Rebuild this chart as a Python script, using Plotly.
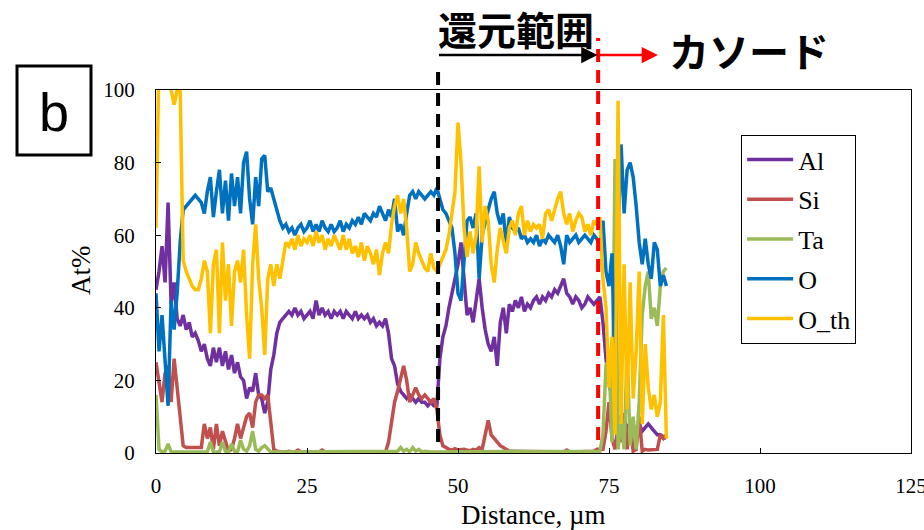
import numpy as np
import plotly.graph_objects as go

# Line scan positions (µm), 0.5 µm step
distance = np.round(np.arange(0, 85, 0.5), 1)

# Atomic % of each element along the scan
al = [
    45, 50, 57, 47, 69, 41, 47, 37, 35, 38,
    34, 36, 32, 33, 31, 28, 30, 26, 24, 29,
    25, 29, 24, 28, 23, 27, 22, 25, 21, 20,
    15, 18, 17, 22, 16, 15, 11, 14, 23, 27,
    33, 36, 37, 38, 39, 38, 40, 38, 39, 37,
    38, 39, 37, 42, 38, 40, 38, 39, 37, 39,
    38, 39, 37, 39, 38, 37, 39, 37, 38, 37,
    38, 36, 37, 35, 36, 35, 37, 33, 26, 24,
    19, 17, 16, 15, 16, 15, 14, 15, 14, 14,
    13, 14, 13, 13, 26, 32, 35, 40, 44, 47,
    52, 58, 48, 38, 40, 36, 42, 48, 40, 34,
    30, 28, 32, 24, 36, 40, 33, 41, 39, 42,
    40, 43, 39, 41, 40, 42, 43, 41, 43, 42,
    44, 43, 45, 44, 46, 48, 44, 43, 41, 43,
    42, 40, 41, 43, 42, 41, 42, 43, 36, 26,
    19, 15, 12, 10, 8, 9, 7, 8, 6, 7,
    8, 6, 7, 8, 7, 6, 5, 5, 4.5, 4,
]
si = [
    25, 20, 14, 22, 24, 14, 26, 18, 11, 2,
    1.5, 1.5, 1.5, 1.5, 1.5, 1.5, 8, 4, 7, 1,
    8, 2, 6, 3, 0.5, 1, 4, 8, 4, 7,
    10, 11, 7, 14, 16, 16, 15, 16, 8, 1,
    0.5, 0.3, 0.3, 0.3, 0.5, 0.3, 0.3, 0.8, 0.3, 0.3,
    0.3, 0.3, 0.5, 0.3, 0.3, 0.8, 0.3, 0.3, 0.3, 0.3,
    0.5, 0.3, 0.3, 0.3, 0.3, 0.3, 0.3, 0.3, 0.3, 0.3,
    0.3, 0.3, 0.5, 0.3, 0.3, 0.3, 0.3, 3, 9, 14,
    17, 21, 24, 20, 14, 16, 18, 16, 15, 16,
    15, 14, 15, 12, 5, 2, 1.5, 1, 0.8, 1.2,
    0.8, 1, 1, 0.8, 0.6, 1, 0.8, 1.5, 1, 5,
    9, 5, 4, 3, 2, 1.5, 1, 0.5, 0.5, 0.5,
    0.3, 0.5, 0.3, 0.3, 0.3, 0.5, 0.3, 0.3, 0.5, 0.3,
    0.3, 0.3, 0.5, 0.3, 0.3, 0.3, 0.8, 0.3, 0.3, 0.3,
    0.3, 0.3, 0.3, 0.3, 0.5, 0.5, 1, 1, 1, 6,
    14, 4, 1, 8, 3, 11, 1, 9, 0.5, 1,
    10, 0.5, 1, 0.8, 0.8, 1, 1, 5, 4, 5,
]
ta = [
    16, 1, 0.3, 0.5, 2.5, 0.3, 0.3, 0.3, 0.3, 0.3,
    0.3, 0.3, 0.3, 0.3, 0.3, 0.3, 0.3, 0.3, 3, 0.3,
    0.3, 0.3, 3, 0.5, 0.3, 2.5, 0.5, 0.3, 3.5, 1,
    0.5, 2, 6, 1, 0.5, 1.5, 2, 1, 0.3, 0.3,
    0.3, 0.3, 0.3, 0.3, 0.3, 0.3, 0.3, 0.3, 0.3, 0.3,
    0.3, 0.3, 0.3, 0.3, 0.3, 0.3, 0.3, 0.3, 0.3, 0.3,
    0.3, 0.3, 0.3, 0.3, 0.3, 0.3, 0.3, 0.3, 0.3, 0.3,
    0.3, 0.3, 0.3, 0.3, 0.3, 0.3, 0.3, 0.3, 0.3, 0.3,
    0.5, 1.5, 0.5, 1, 0.3, 1.5, 0.5, 1, 0.3, 0.5,
    0.3, 0.3, 0.3, 0.3, 0.3, 0.3, 0.3, 0.3, 0.3, 0.3,
    0.3, 0.3, 0.3, 0.3, 0.3, 0.3, 0.3, 0.3, 0.3, 0.3,
    0.3, 0.3, 0.3, 0.3, 0.3, 0.3, 0.3, 0.3, 0.3, 0.3,
    0.3, 0.3, 0.3, 0.3, 0.3, 0.3, 0.3, 0.3, 0.3, 0.3,
    0.3, 0.3, 0.3, 0.3, 0.3, 0.3, 0.3, 0.3, 0.3, 0.3,
    0.3, 0.3, 0.3, 0.3, 0.3, 0.3, 0.3, 0.5, 5, 24,
    26, 3, 81, 1, 9, 1, 28, 2, 10, 1,
    14, 38, 46, 50, 37, 40, 35, 46, 50, 51,
]
o = [
    44, 28, 38, 26, 13, 42, 34, 44, 58, 67,
    68, 69, 70, 71, 70, 69, 66, 72, 76, 65,
    72, 78, 66, 75, 64, 77, 68, 76, 66, 80,
    83, 70, 63, 76, 68, 81, 82, 72, 73, 70,
    67, 64, 62, 63, 61, 62, 60, 62, 63, 61,
    62, 64, 61, 63, 61, 64, 62, 61, 63, 61,
    62, 64, 61, 63, 62, 64, 63, 65, 63, 66,
    65, 64, 66, 65, 68, 66, 64, 67, 65, 70,
    61, 63, 60, 66, 71, 72, 70, 72, 71, 70,
    71, 72, 71, 73, 70, 67, 66, 64, 62, 55,
    44, 42, 52, 64, 65, 62, 66, 48, 60, 64,
    67, 70, 72, 66, 63, 66, 57, 65, 62, 61,
    62, 59, 60, 58, 59, 58, 60, 57, 59, 58,
    60, 59, 58, 60, 57, 52, 60, 58, 59, 60,
    58, 59, 60, 59, 58, 60, 59, 57, 64, 50,
    46, 55, 20, 60, 85, 66, 78, 80, 76, 68,
    58, 52, 59, 52, 48, 58, 56, 46, 49, 46,
]
o_th = [
    62, 108, 112, 108, 103, 99, 96, 100, 100, 53,
    50, 48, 46, 45, 45, 48, 53, 50, 33, 52,
    56, 33, 58, 42, 52, 35, 50, 53, 47, 56,
    38, 26, 52, 63, 48, 40, 27, 48, 52, 46,
    52, 48, 53, 58, 57, 59, 56, 60, 57, 59,
    58, 60, 57, 61, 58, 60, 56, 59, 57, 60,
    58, 56, 60, 56, 59, 55, 57, 54, 58, 53,
    57, 55, 52, 56, 49, 55, 58, 55, 63, 68,
    71, 66, 70, 62, 50, 52, 58, 55, 53, 51,
    50, 55, 51, 50, 52, 54, 56, 60, 66, 72,
    91, 80, 62, 54, 61, 55, 60, 79, 58, 68,
    64, 52, 47, 56, 62, 58, 55, 62, 64, 60,
    66, 68, 60, 64, 61, 63, 62, 63, 59, 66,
    67, 64, 67, 70, 72, 66, 63, 66, 61, 64,
    66, 65, 61, 63, 60, 64, 63, 65, 48, 40,
    18, 32, 5, 97, 8, 52, 12, 47, 15, 28,
    50, 8, 30, 18, 12, 16, 10, 14, 38, 4,
]

series = [
    ("Al", al, "#7030A0"),
    ("Si", si, "#C0504D"),
    ("Ta", ta, "#9BBB59"),
    ("O", o, "#0070C0"),
    ("O_th", o_th, "#FFC000"),
]

# Boundaries of the reduced zone and the cathode (µm)
reduced_start = 46.7
cathode_start = 73.2
cathode_arrow_end = 83.1

x_ticks = [0, 25, 50, 75, 100, 125]
y_ticks = [0, 20, 40, 60, 80, 100]

serif = "Liberation Serif, Times New Roman, serif"
cjk = "Noto Sans CJK JP, sans-serif"

fig = go.Figure()
for name, vals, color in series:
    fig.add_trace(go.Scatter(
        x=distance, y=vals, name=name, mode="lines",
        line=dict(color=color, width=3.5),
        legendgroup=name,
    ))

axis_common = dict(
    showline=True, linecolor="black", linewidth=1, mirror=True,
    ticks="inside", ticklen=5, tickcolor="black", tickwidth=1,
    showgrid=False, zeroline=False, ticklabeloverflow="allow",
    automargin=False,
    tickfont=dict(family=serif, size=21, color="black"),
)

fig.update_layout(
    width=924, height=530,
    margin=dict(l=156, r=13, t=90, b=77, autoexpand=False),
    paper_bgcolor="white", plot_bgcolor="white",
    xaxis=dict(range=[0, 125], tickvals=x_ticks, ticklabelstandoff=14, **axis_common),
    yaxis=dict(range=[0, 100], tickvals=y_ticks, ticklabelstandoff=16, **axis_common),
    legend=dict(
        x=0.775, y=0.876, xanchor="left", yanchor="top",
        bgcolor="white", bordercolor="black", borderwidth=1,
        font=dict(family=serif, size=26, color="black"),
        tracegroupgap=3, itemwidth=46,
    ),
    showlegend=True,
)

# Dashed boundary lines
fig.add_shape(type="line", xref="x", yref="paper",
              x0=reduced_start, x1=reduced_start, y0=0.030, y1=1.061,
              line=dict(color="black", width=4, dash="13px,8px"))
fig.add_shape(type="line", xref="x", yref="paper",
              x0=cathode_start, x1=cathode_start, y0=0.036, y1=1.143,
              line=dict(color="#FF0000", width=4, dash="13px,8px"))

# Arrows above the plot (tail given as a pixel offset from the head)
arrow_y = 1.0964
px_per_um = 755 / 125
fig.add_annotation(xref="x", yref="paper", x=cathode_start - 0.1, y=arrow_y,
                   axref="pixel", ayref="pixel",
                   ax=-(cathode_start - reduced_start) * px_per_um, ay=0,
                   text="", showarrow=True, arrowhead=2, arrowsize=1.3,
                   arrowwidth=2.5, arrowcolor="black")
fig.add_annotation(xref="x", yref="paper", x=cathode_arrow_end, y=arrow_y,
                   axref="pixel", ayref="pixel",
                   ax=-(cathode_arrow_end - cathode_start) * px_per_um, ay=0,
                   text="", showarrow=True, arrowhead=2, arrowsize=1.3,
                   arrowwidth=2.5, arrowcolor="#FF0000")

fig.add_annotation(xref="paper", yref="paper", x=0.4768, y=1.172,
                   text="<b>還元範囲</b>", showarrow=False,
                   xanchor="center", yanchor="middle",
                   font=dict(family=cjk, size=39, color="black"))
fig.add_annotation(xref="paper", yref="paper", x=0.786, y=1.110,
                   text="<b>カソード</b>", showarrow=False,
                   xanchor="center", yanchor="middle",
                   font=dict(family=cjk, size=40, color="black"))

# Panel label
fig.add_shape(type="rect", xref="paper", yref="paper",
              x0=-0.1841, x1=-0.0861, y0=0.821, y1=1.066,
              line=dict(color="black", width=3))
fig.add_annotation(xref="paper", yref="paper", x=-0.1351, y=0.94,
                   text="b", showarrow=False, xanchor="center", yanchor="middle",
                   font=dict(family="Liberation Sans, Arial, sans-serif", size=54, color="black"))

# Axis titles
fig.add_annotation(xref="paper", yref="paper", x=-0.0993, y=0.504,
                   text="At%", textangle=-90, showarrow=False,
                   xanchor="center", yanchor="middle",
                   font=dict(family=serif, size=27, color="black"))
fig.add_annotation(xref="paper", yref="paper", x=0.5, y=-0.1708,
                   text="Distance, µm", showarrow=False,
                   xanchor="center", yanchor="middle",
                   font=dict(family=serif, size=27, color="black"))

fig.write_html("out.html")
